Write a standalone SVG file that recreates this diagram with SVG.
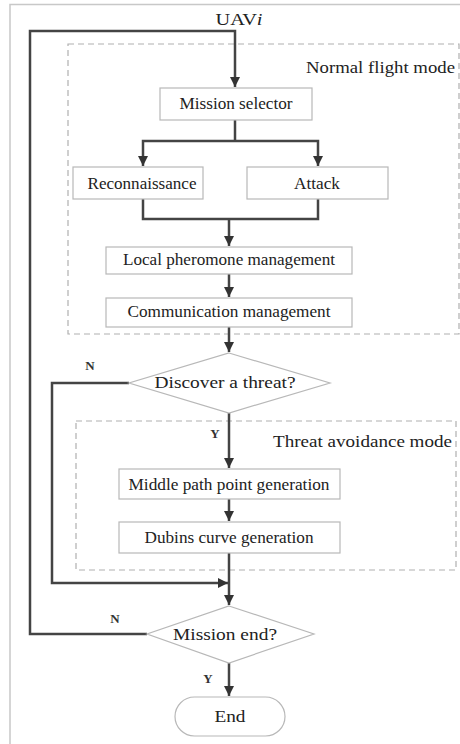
<svg xmlns="http://www.w3.org/2000/svg" width="460" height="744" viewBox="0 0 460 744">
<defs>
<marker id="ah" viewBox="0 0 10 10" refX="10" refY="5" markerWidth="4" markerHeight="4" orient="auto" markerUnits="strokeWidth">
<path d="M0,0 L10,5 L0,10 z" fill="#333"/>
</marker>
<style>
.t{font-family:"Liberation Serif","Times New Roman",serif;font-size:16px;fill:#222;text-anchor:middle}
.lbl{font-family:"Liberation Serif","Times New Roman",serif;font-size:13px;font-weight:bold;fill:#333;text-anchor:middle}
.box{fill:#fff;stroke:#b8b8b8;stroke-width:1.2}
.dash{fill:none;stroke:#b0b0b0;stroke-width:1.2;stroke-dasharray:6,4}
.c{fill:none;stroke:#444;stroke-width:2.5}
.ca{fill:none;stroke:#444;stroke-width:2.5;marker-end:url(#ah)}
</style>
</defs>
<rect width="460" height="744" fill="#fff"/>
<path d="M10,744 V4.5 H460" fill="none" stroke="#c8c8c8" stroke-width="1.5"/>

<g id="normal-mode">
<rect class="dash" x="68" y="44" width="391" height="290"/>
<text class="t" x="455" y="73" style="text-anchor:end" textLength="149" lengthAdjust="spacingAndGlyphs">Normal flight mode</text>
</g>
<g id="threat-mode">
<rect class="dash" x="76" y="421" width="380" height="149"/>
<text class="t" x="452" y="447" style="text-anchor:end" textLength="179" lengthAdjust="spacingAndGlyphs">Threat avoidance mode</text>
</g>

<g id="connectors">
<path class="ca" d="M30,583 V31 H235 V87"/>
<path class="c" d="M235,120 V141"/>
<path class="ca" d="M235,141 H143 V166"/>
<path class="ca" d="M235,141 H318 V166"/>
<path class="c" d="M143,199 V219 H318 V199"/>
<path class="ca" d="M229,219 V246"/>
<path class="ca" d="M229,274 V297"/>
<path class="ca" d="M229,327 V352"/>
<path class="ca" d="M129,383 H52 V583 H228"/>
<path class="ca" d="M229,413 V468"/>
<path class="ca" d="M229,499 V521"/>
<path class="ca" d="M229,553 V605"/>
<path class="c" d="M147,634 H30 V583"/>
<path class="ca" d="M229,663 V696"/>
<text class="lbl" x="90" y="370">N</text>
<text class="lbl" x="215" y="438">Y</text>
<text class="lbl" x="115" y="623">N</text>
<text class="lbl" x="208" y="683">Y</text>
</g>

<g id="uav">
<text class="t" x="239" y="25" textLength="47" lengthAdjust="spacingAndGlyphs">UAV<tspan font-style="italic">i</tspan></text>
</g>
<g id="mission-selector">
<rect class="box" x="160" y="88" width="152" height="32"/>
<text class="t" x="236" y="109" textLength="113" lengthAdjust="spacingAndGlyphs">Mission selector</text>
</g>
<g id="reconnaissance">
<rect class="box" x="73" y="167" width="130" height="32"/>
<text class="t" x="142" y="189" textLength="109" lengthAdjust="spacingAndGlyphs">Reconnaissance</text>
</g>
<g id="attack">
<rect class="box" x="247" y="167" width="141" height="32"/>
<text class="t" x="317" y="189" textLength="46" lengthAdjust="spacingAndGlyphs">Attack</text>
</g>
<g id="local-pheromone">
<rect class="box" x="106" y="247" width="246" height="27"/>
<text class="t" x="229" y="265" textLength="212" lengthAdjust="spacingAndGlyphs">Local pheromone management</text>
</g>
<g id="communication">
<rect class="box" x="106" y="298" width="246" height="29"/>
<text class="t" x="229" y="317" textLength="203" lengthAdjust="spacingAndGlyphs">Communication management</text>
</g>
<g id="discover-threat">
<polygon class="box" points="229,353 330,383 229,413 129,383"/>
<text class="t" x="225" y="388" textLength="141" lengthAdjust="spacingAndGlyphs">Discover a threat?</text>
</g>
<g id="middle-path">
<rect class="box" x="119" y="469" width="221" height="30"/>
<text class="t" x="229" y="490" textLength="201" lengthAdjust="spacingAndGlyphs">Middle path point generation</text>
</g>
<g id="dubins">
<rect class="box" x="119" y="522" width="221" height="31"/>
<text class="t" x="229" y="543" textLength="169" lengthAdjust="spacingAndGlyphs">Dubins curve generation</text>
</g>
<g id="mission-end">
<polygon class="box" points="229,606 314,634 229,663 147,634"/>
<text class="t" x="225" y="640" textLength="104" lengthAdjust="spacingAndGlyphs">Mission end?</text>
</g>
<g id="end">
<rect class="box" x="175" y="697" width="110" height="39" rx="19.5"/>
<text class="t" x="230" y="722" textLength="31" lengthAdjust="spacingAndGlyphs">End</text>
</g>
</svg>
